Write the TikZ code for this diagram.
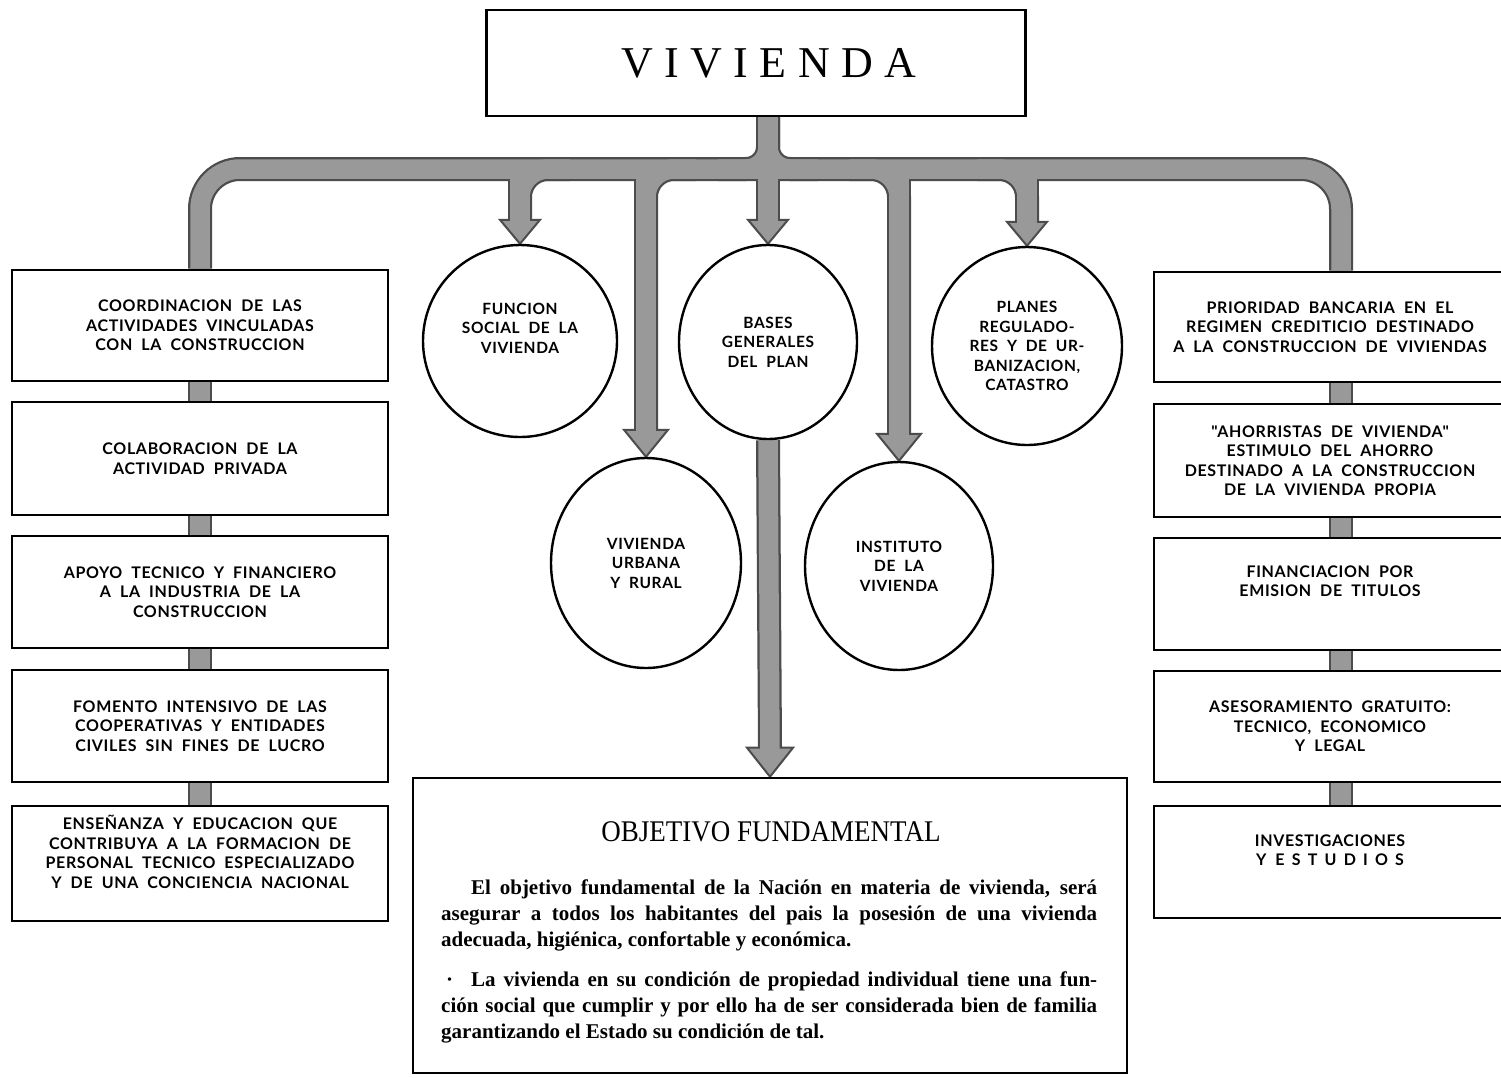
\documentclass[tikz,border=0pt]{standalone}
\usepackage{fontspec}
\usetikzlibrary{shapes.geometric,calc}
\setmainfont{Liberation Serif}
\newfontfamily\capsfont[LetterSpace=4,WordSpace=2]{Lato}
\newfontfamily\titlefont[LetterSpace=26]{Liberation Serif}
\newfontfamily\objfont[FakeStretch=0.9]{Liberation Serif}
\definecolor{pipefill}{gray}{0.6}
\definecolor{pipeedge}{gray}{0.3}
\pgfdeclarelayer{background}
\pgfsetlayers{background,main}
\tikzset{
  lbox/.style={draw, line width=2.6pt, align=center, inner sep=0pt,
    minimum width=376pt, font=\capsfont\bfseries\fontsize{16}{19.5}\selectfont},
  rbox/.style={lbox, minimum width=352pt},
  circ/.style={draw, ellipse, line width=2.4pt, align=center, inner sep=0pt,
    font=\capsfont\bfseries\fontsize{15.5}{19.5}\selectfont},
}
\newcommand\pipenet[1]{%
  \draw[rounded corners=40pt] (L1.north) -- (L1.north |- bar) -- (rp1 |- bar) -- (rp1);
  \draw[rounded corners=22pt] (flL) -- (c2.north |- bar) -- (stemtop);
  \draw[rounded corners=22pt] (flR) -- (c2.north |- bar) -- (stemtop);
  \draw (stemtop) -- ($(c2.north)+(0,#1-24)$);
  \draw[rounded corners=28pt] (b1s) -- (c1.north |- bar) -- ($(c1.north)+(0,#1-24)$);
  \draw (c1.north |- bar) -- ($(c1.north)+(0,#1-24)$);
  \draw[rounded corners=28pt] (b2s) -- (c4.north |- bar) -- ($(c4.north)+(0,#1-27)$);
  \draw (c4.north |- bar) -- ($(c4.north)+(0,#1-27)$);
  \draw[rounded corners=28pt] (b4s) -- (c5.north |- bar) -- ($(c5.north)+(0,#1-27)$);
  \draw (c5.north |- bar) -- ($(c5.north)+(0,#1-27)$);
  \draw[rounded corners=28pt] (b5s) -- (c3.north |- bar) -- ($(c3.north)+(0,#1-24)$);
  \draw (c3.north |- bar) -- ($(c3.north)+(0,#1-24)$);
  \draw (c2.south) -- ($(obj.north)+(0,#1-29)$);
  \draw (L1.south) -- (L2.north);
  \draw (L2.south) -- (L3.north);
  \draw (L3.south) -- (L4.north);
  \draw (L4.south) -- (L5.north);
  \draw (R1.south -| rp1) -- (R2.north -| rp1);
  \draw (R2.south -| rp1) -- (R3.north -| rp1);
  \draw (R3.south -| rp1) -- (R4.north -| rp1);
  \draw (R4.south -| rp1) -- (R5.north -| rp1);
}
\newcommand\pipehead[3]{%
  \filldraw[fill=pipefill, draw=pipeedge, line width=2pt, line join=miter]
    ($(#1)+(-#2,-#3)$) -- (#1) -- ($(#1)+(#2,-#3)$) -- cycle;}
\begin{document}
\begin{tikzpicture}[x=1pt,y=-1pt]
\useasboundingbox (0,0) rectangle (1501,1077);

% title box
\node[draw, line width=2.6pt, minimum width=539pt, minimum height=106pt, inner sep=0pt,
  font=\titlefont\fontsize{44}{50}\selectfont] (viv) at (756,63) {\hspace*{26pt}VIVIENDA};

% left column
\node[lbox, minimum height=111pt] (L1) at (200,325.5)
  {COORDINACION DE LAS\\ACTIVIDADES VINCULADAS\\CON LA CONSTRUCCION};
\node[lbox, minimum height=113pt] (L2) at (200,458.5)
  {COLABORACION DE LA\\ACTIVIDAD PRIVADA};
\node[lbox, minimum height=112pt] (L3) at (200,592)
  {APOYO TECNICO Y FINANCIERO\\A LA INDUSTRIA DE LA\\CONSTRUCCION};
\node[lbox, minimum height=112pt] (L4) at (200,726)
  {FOMENTO INTENSIVO DE LAS\\COOPERATIVAS Y ENTIDADES\\CIVILES SIN FINES DE LUCRO};
\node[lbox, minimum height=115pt] (L5) at (200,863.5)
  {ENSEÑANZA Y EDUCACION QUE\\CONTRIBUYA A LA FORMACION DE\\PERSONAL TECNICO ESPECIALIZADO\\Y DE UNA CONCIENCIA NACIONAL\\[4pt]};

% right column
\node[rbox, minimum height=110pt] (R1) at (1330,327)
  {PRIORIDAD BANCARIA EN EL\\REGIMEN CREDITICIO DESTINADO\\A LA CONSTRUCCION DE VIVIENDAS};
\node[rbox, minimum height=113pt] (R2) at (1330,460.5)
  {"AHORRISTAS DE VIVIENDA"\\ESTIMULO DEL AHORRO\\DESTINADO A LA CONSTRUCCION\\DE LA VIVIENDA PROPIA};
\node[rbox, minimum height=112pt] (R3) at (1330,594)
  {FINANCIACION POR\\EMISION DE TITULOS\\\strut};
\node[rbox, minimum height=111pt] (R4) at (1330,726.5)
  {ASESORAMIENTO GRATUITO:\\TECNICO, ECONOMICO\\Y LEGAL};
\node[rbox, minimum height=112pt] (R5) at (1330,862)
  {INVESTIGACIONES\\Y {\addfontfeature{LetterSpace=45}ESTUDIOS}\\[4pt]};

% circles
\node[circ, minimum width=194pt, minimum height=192pt] (c1) at (520,341)
  {FUNCION\\SOCIAL DE LA\\VIVIENDA\\[6pt]};
\node[circ, minimum width=178pt, minimum height=194pt] (c2) at (768,342)
  {BASES\\GENERALES\\DEL PLAN};
\node[circ, minimum width=190pt, minimum height=198pt] (c3) at (1027,346)
  {PLANES\\REGULADO-\\RES Y DE UR-\\BANIZACION,\\CATASTRO};
\node[circ, minimum width=190pt, minimum height=210pt] (c4) at (646,563)
  {VIVIENDA\\URBANA\\Y RURAL};
\node[circ, minimum width=188pt, minimum height=208pt] (c5) at (899,566)
  {INSTITUTO\\DE LA\\VIVIENDA};

% objective box
\node[draw, line width=2.6pt, minimum width=714pt, minimum height=295pt, inner sep=0pt] (obj) at (770,925.5) {};
\node[font=\objfont\fontsize{30}{34}\selectfont, inner sep=0pt, anchor=base] (objt) at (771,841)
  {OBJETIVO FUNDAMENTAL};
\node[text width=656pt, align=justify, inner sep=0pt, anchor=north west,
  font=\fontsize{21}{26}\selectfont\bfseries] (objp) at (441,879) {%
\hspace*{30pt}El objetivo fundamental de la Nación en materia de vivienda, será\linebreak
asegurar a todos los habitantes del pais la posesión de una vivienda\linebreak
adecuada, higiénica, confortable y económica.\par
\vspace{14pt}
\noindent\makebox[30pt][l]{\hspace{5pt}·}La vivienda en su condición de propiedad individual tiene una fun-\linebreak
ción social que cumplir y por ello ha de ser considerada bien de familia\linebreak
garantizando el Estado su condición de tal.\par};

% pipe network
\coordinate (bar) at (0,169);
\coordinate (rp1) at ($(R1.north)+(11,0)$);
\coordinate (stemtop) at (c2.north |- viv.south);
\coordinate (flL) at ($(c2.north |- bar)+(-50,0)$);
\coordinate (flR) at ($(c2.north |- bar)+(50,0)$);
\coordinate (b1s) at ($(c1.north |- bar)+(50,0)$);
\coordinate (b2s) at ($(c4.north |- bar)+(50,0)$);
\coordinate (b4s) at ($(c5.north |- bar)+(-50,0)$);
\coordinate (b5s) at ($(c3.north |- bar)+(-50,0)$);
\begin{pgfonlayer}{background}
  \fill[white] (0,0) rectangle (1501,1077);
  \begin{scope}[line width=24pt, draw=pipeedge]
    \pipenet{0}
  \end{scope}
  \pipehead{c1.north}{20}{24}
  \pipehead{c2.north}{20}{24}
  \pipehead{c3.north}{20}{24}
  \pipehead{c4.north}{22}{27}
  \pipehead{c5.north}{22}{27}
  \pipehead{obj.north}{23}{29}
  \begin{scope}[line width=19.5pt, draw=pipefill]
    \pipenet{3}
  \end{scope}
\end{pgfonlayer}
\end{tikzpicture}
\end{document}
